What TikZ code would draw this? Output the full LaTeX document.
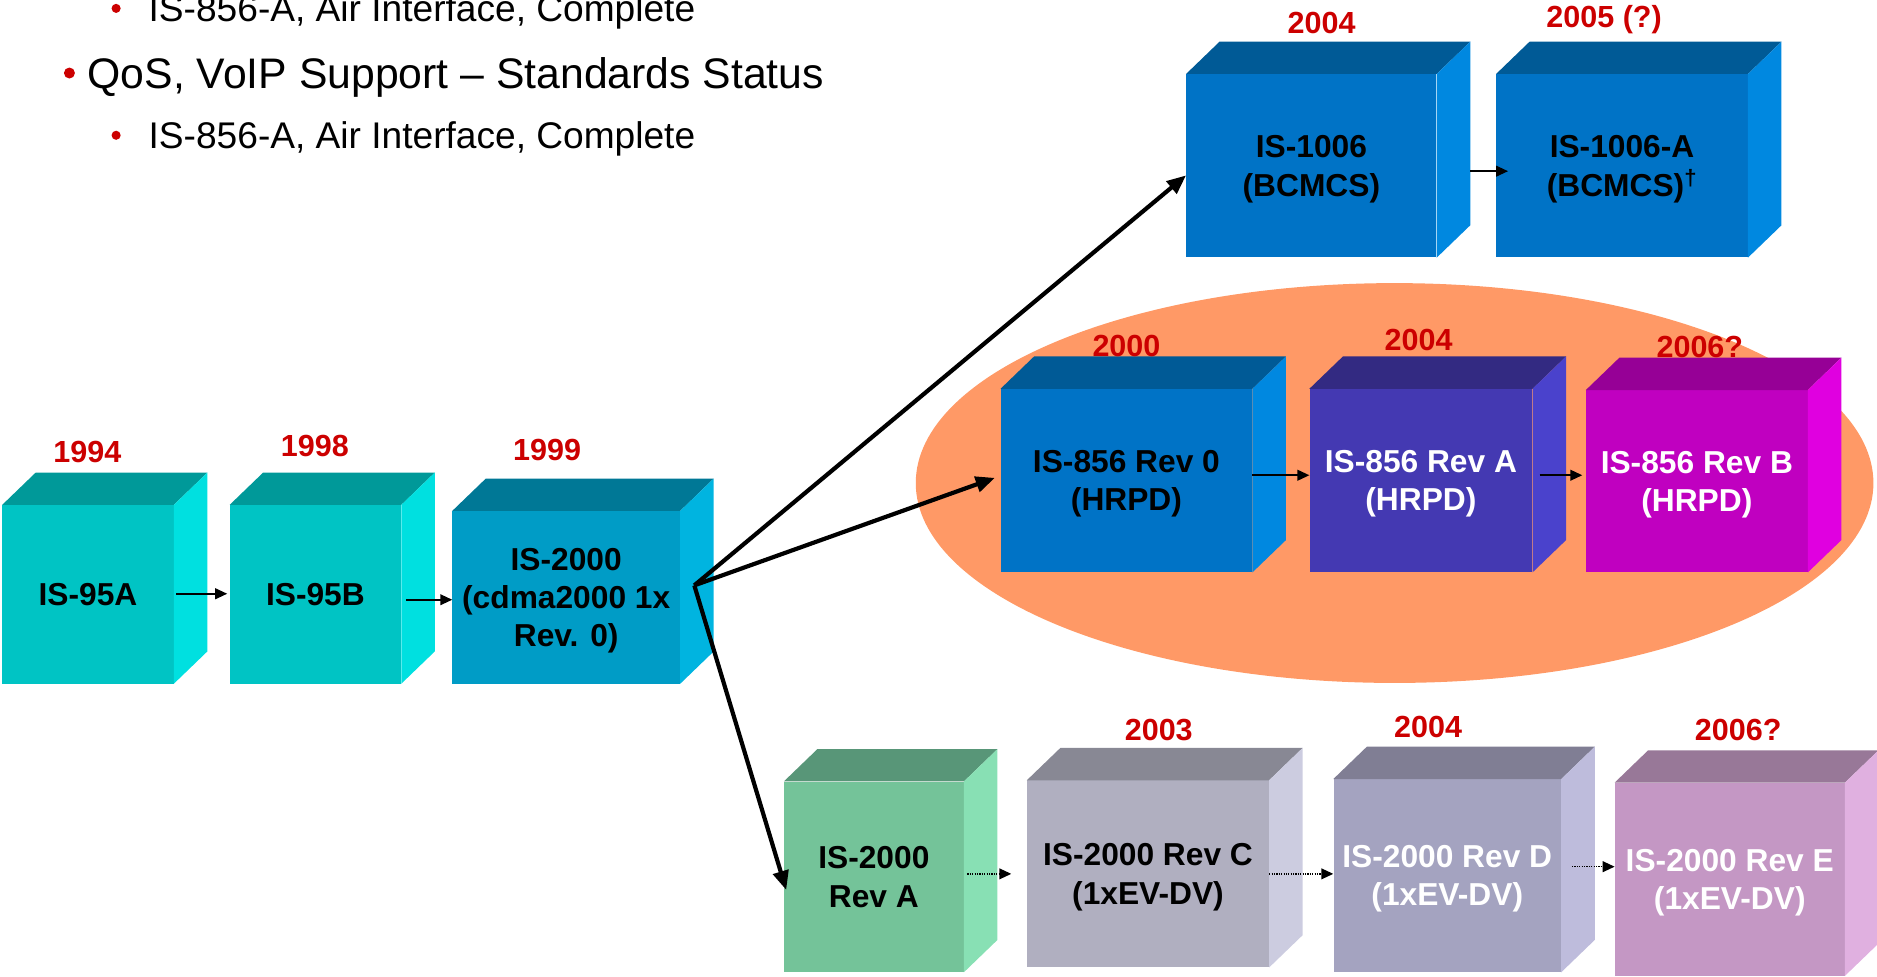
\documentclass[tikz,border=0pt]{standalone}
\usepackage{fontspec}
\setmainfont{Liberation Sans}
\usetikzlibrary{arrows.meta}

% palette
\definecolor{yearred}{HTML}{CC0000}
\definecolor{halo}{HTML}{FF9966}
\definecolor{tealF}{HTML}{00C4C4}\definecolor{tealT}{HTML}{009999}\definecolor{tealS}{HTML}{00E0E0}
\definecolor{ceruF}{HTML}{009CC6}\definecolor{ceruT}{HTML}{007896}\definecolor{ceruS}{HTML}{00B4E0}
\definecolor{blueF}{HTML}{0073C6}\definecolor{blueT}{HTML}{005A96}\definecolor{blueS}{HTML}{0088E0}
\definecolor{indF}{HTML}{4439B2}\definecolor{indT}{HTML}{332A82}\definecolor{indS}{HTML}{4A42CC}
\definecolor{magF}{HTML}{C000C0}\definecolor{magT}{HTML}{960096}\definecolor{magS}{HTML}{E000E0}
\definecolor{mintF}{HTML}{74C399}\definecolor{mintT}{HTML}{589678}\definecolor{mintS}{HTML}{88E0B4}
\definecolor{greyF}{HTML}{B0AFC0}\definecolor{greyT}{HTML}{888894}\definecolor{greyS}{HTML}{CCCCE0}
\definecolor{lilaF}{HTML}{A4A3C0}\definecolor{lilaT}{HTML}{807E94}\definecolor{lilaS}{HTML}{BEBCDC}
\definecolor{plumF}{HTML}{C497C4}\definecolor{plumT}{HTML}{987898}\definecolor{plumS}{HTML}{E0B0E0}

\newcommand\cubefont{\fontsize{26.5}{32}\selectfont\bfseries}
\newcommand\yearfont{\fontsize{25.5}{30}\selectfont\bfseries}

\tikzset{
  front/.style={draw=none, inner sep=0pt, align=center, font=\cubefont, text=black, text depth=0pt},
  year/.style={anchor=base, text=yearred, font=\yearfont, inner sep=0pt},
  thinarrow/.style={line width=1.3pt, -{Triangle[length=10pt,width=9pt]}},
  dotarrow/.style={line width=1.3pt, dash pattern=on 1pt off 1pt, -{Triangle[length=10pt,width=9pt]}},
  bigarrow/.style={line width=3.5pt, -{Triangle[length=16pt,width=13pt]}},
  bullet/.style={fill=yearred},
}

\begin{document}
\begin{tikzpicture}[x=1pt,y=-1pt]
\useasboundingbox (0,0) rectangle (1568,816);
\clip (0,0) rectangle (1568,816);

% bulleted notes
\fill[bullet] (97,7) circle (3.8);
\node[anchor=base west, inner sep=0pt, font=\fontsize{31}{36}\selectfont] (note1) at (124,18) {IS-856-A, Air Interface, Complete};
\fill[bullet] (58,61) circle (4.6);
\node[anchor=base west, inner sep=0pt, font=\fontsize{35.7}{40}\selectfont] (note2) at (73,74) {QoS, VoIP Support – Standards Status};
\fill[bullet] (97,113) circle (3.8);
\node[anchor=base west, inner sep=0pt, font=\fontsize{31}{36}\selectfont] (note3) at (124,124) {IS-856-A, Air Interface, Complete};

% HRPD family background
\fill[halo] (1165,403.5) ellipse (400 and 167);

% front faces
\node[front, fill=tealF, minimum width=143, minimum height=149] (is95a) at (73.5,496.5) {IS-95A};
\node[front, fill=tealF, minimum width=143, minimum height=149] (is95b) at (263.5,496.5) {IS-95B};
\node[front, fill=ceruF, minimum width=190, minimum height=144] (is2000) at (473,499) {IS-2000\\(cdma2000 1x\\Rev. 0)};
\node[front, fill=blueF, minimum width=209, minimum height=153] (is1006) at (1095.5,138.5) {IS-1006\\(BCMCS)};
\node[front, fill=blueF, minimum width=210, minimum height=153] (is1006a) at (1355,138.5) {IS-1006-A\\(BCMCS)\textsuperscript{†}};
\node[front, fill=blueF, minimum width=210, minimum height=153] (rev0) at (941,401.5) {IS-856 Rev 0\\(HRPD)};
\node[front, fill=indF, text=white, minimum width=186, minimum height=153] (revA) at (1187,401.5) {IS-856 Rev A\\(HRPD)};
\node[front, fill=magF, text=white, minimum width=185, minimum height=152] (revB) at (1417.5,402) {IS-856 Rev B\\(HRPD)};
\node[front, fill=mintF, minimum width=150, minimum height=159] (is2kA) at (730,732.5) {IS-2000\\Rev A};
\node[front, fill=greyF, minimum width=202, minimum height=156] (is2kC) at (959,730) {IS-2000 Rev C\\(1xEV-DV)};
\node[front, fill=lilaF, text=white, minimum width=190, minimum height=161] (is2kD) at (1209,731.5) {IS-2000 Rev D\\(1xEV-DV)};
\node[front, fill=plumF, text=white, minimum width=192, minimum height=161] (is2kE) at (1445,734.5) {IS-2000 Rev E\\(1xEV-DV)};

% top and side faces of every block
\foreach \n/\tc/\sc in {is95a/tealT/tealS, is95b/tealT/tealS, is2000/ceruT/ceruS,
    is1006/blueT/blueS, is1006a/blueT/blueS, rev0/blueT/blueS, revA/indT/indS,
    revB/magT/magS, is2kA/mintT/mintS, is2kC/greyT/greyS, is2kD/lilaT/lilaS,
    is2kE/plumT/plumS} {
  \fill[\tc] (\n.north west) -- ++(28,-27) -- ([shift={(28,-27)}]\n.north east) -- (\n.north east) -- cycle;
  \fill[\sc] (\n.north east) -- ++(28,-27) -- ([shift={(28,-27)}]\n.south east) -- (\n.south east) -- cycle;
}

% release years
\node[year] (y95a) at (73,386) {1994};
\node[year] (y95b) at (263,381) {1998};
\node[year] (y2000) at (457,385) {1999};
\node[year] (y1006) at (1104,28) {2004};
\node[year] (y1006a) at (1340,23) {2005 (?)};
\node[year] (yrev0) at (941,298) {2000};
\node[year] (yrevA) at (1185,293) {2004};
\node[year] (yrevB) at (1420,299) {2006?};
\node[year] (y2kC) at (968,619) {2003};
\node[year] (y2kD) at (1193,616) {2004};
\node[year] (y2kE) at (1452,619) {2006?};

% successions
\draw[thinarrow, shorten <=2pt, shorten >=2pt] (is95a.east |- 0,496) -- (is95b.west |- 0,496);
\draw[thinarrow, shorten <=4pt] (is95b.east |- 0,501) -- (is2000.west |- 0,501);
\draw[thinarrow, shorten <=28pt, shorten >=-10pt] (is1006.east |- 0,143) -- (is1006a.west |- 0,143);
\draw[thinarrow] (rev0.east |- 0,397) -- (revA.west |- 0,397);
\draw[thinarrow, shorten <=6pt, shorten >=3pt] (revA.east |- 0,397) -- (revB.west |- 0,397);
\draw[dotarrow, shorten <=3pt, shorten >=13pt] (is2kA.east |- 0,730) -- (is2kC.west |- 0,730);
\draw[dotarrow] (is2kC.east |- 0,730) -- (is2kD.west |- 0,730);
\draw[dotarrow, shorten <=9pt] (is2kD.east |- 0,724) -- (is2kE.west |- 0,724);

% branches out of IS-2000
\coordinate (fork) at (580,489);
\draw[bigarrow] (fork) -- ([yshift=-8pt]is1006.west);
\draw[bigarrow, shorten >=5pt] (fork) -- ([yshift=4pt]rev0.west);
\draw[bigarrow] (fork) -- ([xshift=2pt,yshift=-11pt]is2kA.west);
\end{tikzpicture}
\end{document}
